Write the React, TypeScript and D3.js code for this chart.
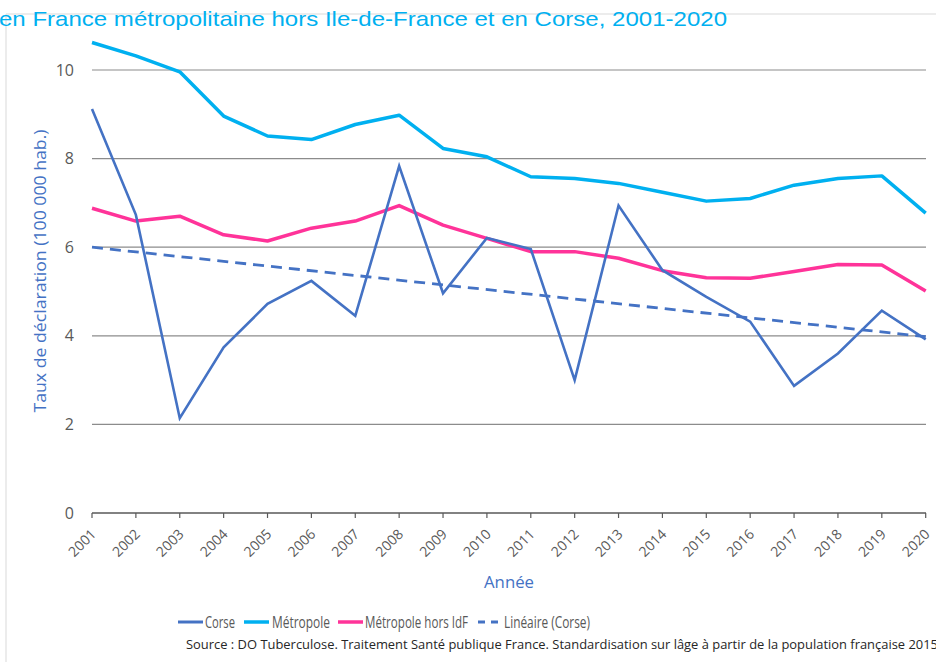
import React from "react";
import * as d3 from "d3";

const years = [2001, 2002, 2003, 2004, 2005, 2006, 2007, 2008, 2009, 2010, 2011, 2012, 2013, 2014, 2015, 2016, 2017, 2018, 2019, 2020];
const corse = [9.12, 6.73, 2.14, 3.74, 4.72, 5.24, 4.45, 7.83, 4.96, 6.21, 5.96, 3.0, 6.94, 5.48, 4.88, 4.32, 2.87, 3.6, 4.57, 3.92];
const metropole = [10.62, 10.32, 9.96, 8.96, 8.51, 8.43, 8.77, 8.98, 8.23, 8.04, 7.59, 7.55, 7.44, 7.24, 7.04, 7.1, 7.4, 7.55, 7.61, 6.77];
const metropoleHorsIdf = [6.88, 6.59, 6.7, 6.28, 6.14, 6.43, 6.59, 6.94, 6.5, 6.2, 5.9, 5.9, 5.75, 5.47, 5.31, 5.3, 5.45, 5.61, 5.6, 5.01];
const trendYears = [2001, 2020];
const trendCorse = [6.0, 3.98];
const yTicks = [0, 2, 4, 6, 8, 10];

const title = "en France métropolitaine hors Ile-de-France et en Corse, 2001-2020";
const yLabel = "Taux de déclaration  (100 000 hab.)";
const xLabel = "Année";
const source = "Source : DO Tuberculose.  Traitement Santé publique France. Standardisation sur lâge à partir de la population française 2015";
const legendLabels = ["Corse", "Métropole", "Métropole hors IdF", "Linéaire (Corse)"];

const C_CORSE = "#4472C4";
const C_METRO = "#00B0F0";
const C_PINK = "#FF3399";
const GREY = "#595959";

export default function App() {
  const W = 936, H = 662;
  const x = d3.scaleLinear().domain([2001, 2020]).range([92, 925.7]);
  const y = d3.scaleLinear().domain([0, 10]).range([513, 70]);
  const line = d3.line<[number, number]>().x(d => x(d[0])).y(d => y(d[1]));
  const pts = (vals: number[], yrs: number[] = years) => vals.map((v, i) => [yrs[i], v] as [number, number]);
  const font = "'Open Sans', 'Liberation Sans', sans-serif";
  const narrow = "'Liberation Sans Narrow', 'Open Sans', sans-serif";

  const legendStyle = [
    { color: C_CORSE, x1: 178, x2: 203, dash: undefined, w: 3, tx: 205, tw: 30 },
    { color: C_METRO, x1: 244, x2: 269, dash: undefined, w: 3.5, tx: 272, tw: 58 },
    { color: C_PINK, x1: 338, x2: 363, dash: undefined, w: 3.5, tx: 365, tw: 103 },
    { color: C_CORSE, x1: 478, x2: 500, dash: "7,6", w: 3, tx: 504, tw: 86 },
  ];

  return (
    <svg width={W} height={H} style={{ position: "absolute", left: 0, top: 0, background: "#fff" }} fontFamily={font}>
      <rect x={0} y={0} width={W} height={H} fill="#fff" />
      {/* chart area border */}
      <line x1={6} x2={W} y1={14} y2={14} stroke="#d9d9d9" strokeWidth={1} />
      <line x1={6} x2={6} y1={14} y2={H} stroke="#d9d9d9" strokeWidth={1} />
      <text x={-1} y={26} fontSize={21} fill={C_METRO} fontFamily="'Liberation Sans', Arial, sans-serif" textLength={728} lengthAdjust="spacingAndGlyphs">{title}</text>

      {/* gridlines */}
      {yTicks.map(t => (
        <g key={t}>
          {t > 0 && <line x1={x(2001)} x2={926} y1={y(t)} y2={y(t)} stroke="#8c8c8c" strokeWidth={1.2} />}
          <text x={74} y={y(t)} dy="0.35em" textAnchor="end" fontSize={16} fill={GREY}>{t}</text>
        </g>
      ))}
      {/* x axis */}
      <line x1={x(2001)} x2={926} y1={y(0)} y2={y(0)} stroke={GREY} strokeWidth={1.3} />
      {years.map(yr => (
        <g key={yr}>
          <line x1={x(yr)} x2={x(yr)} y1={y(0)} y2={y(0) + 5} stroke={GREY} strokeWidth={1.2} />
          <text transform={`translate(${x(yr) + 5},${y(0) + 22}) rotate(-45)`} textAnchor="end" fontSize={14} fill={GREY}>{yr}</text>
        </g>
      ))}

      {/* lines */}
      <path d={line(pts(metropole)) || ""} fill="none" stroke={C_METRO} strokeWidth={3.5} strokeLinejoin="round" />
      <path d={line(pts(metropoleHorsIdf)) || ""} fill="none" stroke={C_PINK} strokeWidth={3.5} strokeLinejoin="round" />
      <path d={line(pts(corse)) || ""} fill="none" stroke={C_CORSE} strokeWidth={2.6} strokeLinejoin="miter" />
      <path d={line(pts(trendCorse, trendYears)) || ""} fill="none" stroke={C_CORSE} strokeWidth={2.8} strokeDasharray="11,7" />

      {/* axis titles */}
      <text transform={`translate(46,${271}) rotate(-90)`} textAnchor="middle" fontSize={16} fill={C_CORSE} textLength={283} lengthAdjust="spacingAndGlyphs">{yLabel}</text>
      <text x={509} y={588} textAnchor="middle" fontSize={16} fill={C_CORSE} textLength={50} lengthAdjust="spacingAndGlyphs">{xLabel}</text>

      {/* legend */}
      {legendLabels.map((lab, i) => {
        const l = legendStyle[i];
        return (
          <g key={lab}>
            <line x1={l.x1} x2={l.x2} y1={622} y2={622} stroke={l.color} strokeWidth={l.w} strokeDasharray={l.dash} />
            <text x={l.tx} y={622} dy="0.35em" fontSize={17} fontFamily={narrow} fill={GREY} textLength={l.tw} lengthAdjust="spacingAndGlyphs">{lab}</text>
          </g>
        );
      })}

      <text x={186} y={649} fontSize={12.5} fontFamily={narrow} fill="#262626" textLength={752} lengthAdjust="spacingAndGlyphs">{source}</text>
    </svg>
  );
}
